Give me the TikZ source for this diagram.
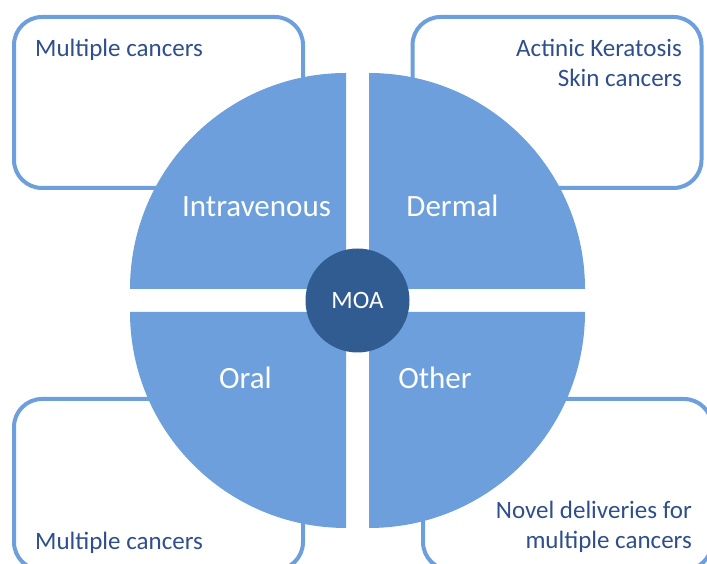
\documentclass[tikz,border=0pt]{standalone}
\usepackage{fontspec}
\setmainfont{Carlito}
\usetikzlibrary{positioning,calc}
\definecolor{quadblue}{HTML}{6C9FDB}
\definecolor{moablue}{HTML}{305C91}
\definecolor{textblue}{HTML}{2F4F8C}

\begin{document}
\begin{tikzpicture}[
  x=1pt, y=1pt,
  box/.style={draw=quadblue, line width=4pt, rounded corners=28pt, fill=white,
              minimum width=289pt, minimum height=171pt, inner sep=0pt},
  note/.style={text=textblue, font=\fontsize{25}{30}\selectfont, inner sep=0pt},
  quad/.style={fill=quadblue},
  route/.style={text=white, font=\fontsize{31}{36}\selectfont, inner sep=0pt},
  hub/.style={circle, fill=moablue, minimum size=104pt, inner sep=0pt,
              text=white, font=\fontsize{25}{30}\selectfont}
]
\clip (0,0) rectangle (707,564);

% indication boxes
\node[box] (ivbox) at (158.5,461.5) {};
\node[box] (dermbox) at (557,461.5) {};
\node[box] (oralbox) at (158.5,79.5) {};
\node[box] (otherbox) at (567.5,79.5) {};

% routes of administration
\fill[quad] (346,275) -- ++(-216,0) arc[start angle=180, end angle=90, radius=216pt] -- cycle;
\fill[quad] (369,275) -- ++(216,0) arc[start angle=0, end angle=90, radius=216pt] -- cycle;
\fill[quad] (346,252) -- ++(-216,0) arc[start angle=180, end angle=270, radius=216pt] -- cycle;
\fill[quad] (369,252) -- ++(216,0) arc[start angle=0, end angle=-90, radius=216pt] -- cycle;

\node[note, anchor=base west] (ivnote) at (35,507) {Multiple cancers};
\node[note, anchor=base east, align=right] (dermnote) at (682,477)
  {Actinic Keratosis\\Skin cancers};
\node[note, anchor=base west] (oralnote) at (35,14) {Multiple cancers};
\node[note, anchor=base east, align=right] (othernote) at (692,15)
  {Novel deliveries for\\multiple cancers};

\node[route, anchor=base] (iv) at (256.5,347) {Intravenous};
\node[route, anchor=base] (derm) at (452.5,347) {Dermal};
\node[route, anchor=base] (oral) at (245.5,175) {Oral};
\node[route, anchor=base] (other) at (435,175) {Other};

\node[hub] (moa) at (357.5,263.5) {MOA};
\end{tikzpicture}
\end{document}
